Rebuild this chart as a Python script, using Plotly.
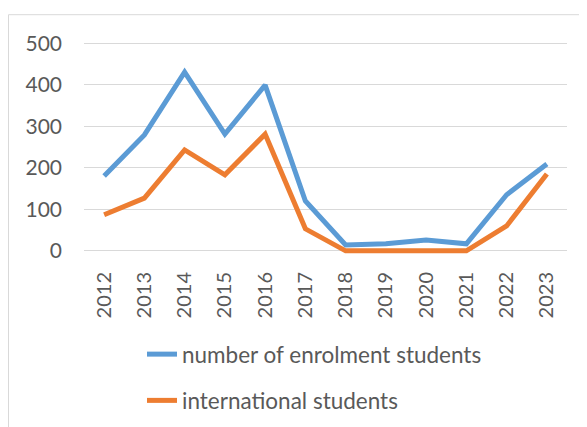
import plotly.graph_objects as go

years = ["2012", "2013", "2014", "2015", "2016", "2017", "2018", "2019", "2020", "2021", "2022", "2023"]
enrolment = [180, 279, 430, 281, 399, 120, 14, 17, 26, 17, 135, 209]
international = [87, 127, 243, 183, 281, 53, 0, 0, 0, 0, 60, 185]
y_ticks = [0, 100, 200, 300, 400, 500]

# the page adds an 8px body margin; lay out in screen pixels minus that offset
OFF = 8
W, H = 587 - OFF, 427 - OFF
L = 84 - OFF
R = W - (567 - OFF)
y_lo, y_hi = -10, 510
px_per = 208 / 500
T = (43 - OFF) - (y_hi - 500) * px_per
B = H - ((251 - OFF) + (0 - y_lo) * px_per)
plot_h = H - T - B
plot_w = W - L - R

def sx(px):  # screen x -> paper
    return (px - OFF - L) / plot_w

def sy(py):  # screen y -> paper
    return (H - B - (py - OFF)) / plot_h

FONT = "Lato"
GREY = "#595959"

fig = go.Figure()
fig.add_trace(go.Scatter(x=years, y=enrolment, mode="lines", name="number of enrolment students",
                         legendgroup="a", line=dict(color="#5B9BD5", width=5)))
fig.add_trace(go.Scatter(x=years, y=international, mode="lines", name="international students",
                         legendgroup="b", line=dict(color="#ED7D31", width=5)))

fig.update_layout(
    width=W, height=H,
    margin=dict(l=L, r=R, t=T, b=B, pad=0, autoexpand=False),
    paper_bgcolor="white", plot_bgcolor="white",
    font=dict(family=FONT, size=20, color=GREY),
    showlegend=True,
    legend=dict(xref="container", yref="container",
                x=(142 - OFF) / W, y=1 - (333 - OFF) / H, xanchor="left", yanchor="top",
                orientation="v", font=dict(family=FONT, size=22.5, color=GREY),
                tracegroupgap=14, bgcolor="rgba(0,0,0,0)"),
    xaxis=dict(type="category", range=[-0.5, 11.5], showgrid=False, zeroline=False, showline=False,
               tickangle=-90, tickfont=dict(family=FONT, size=20, color=GREY),
               ticks="", ticklabelstandoff=12, automargin=False),
    yaxis=dict(range=[y_lo, y_hi], tickvals=y_ticks, showgrid=True, gridcolor="#D9D9D9",
               gridwidth=1, zeroline=False, showline=False, ticks="",
               tickfont=dict(family=FONT, size=21, color=GREY), ticklabelstandoff=21,
               automargin=False),
    shapes=[dict(type="rect", xref="paper", yref="paper",
                 x0=sx(OFF + 0.5), x1=sx(620),
                 y0=sy(460), y1=sy(14.5),
                 line=dict(color="#D9D9D9", width=1), fillcolor="rgba(0,0,0,0)", layer="below")],
)

fig.write_html("out.html")
